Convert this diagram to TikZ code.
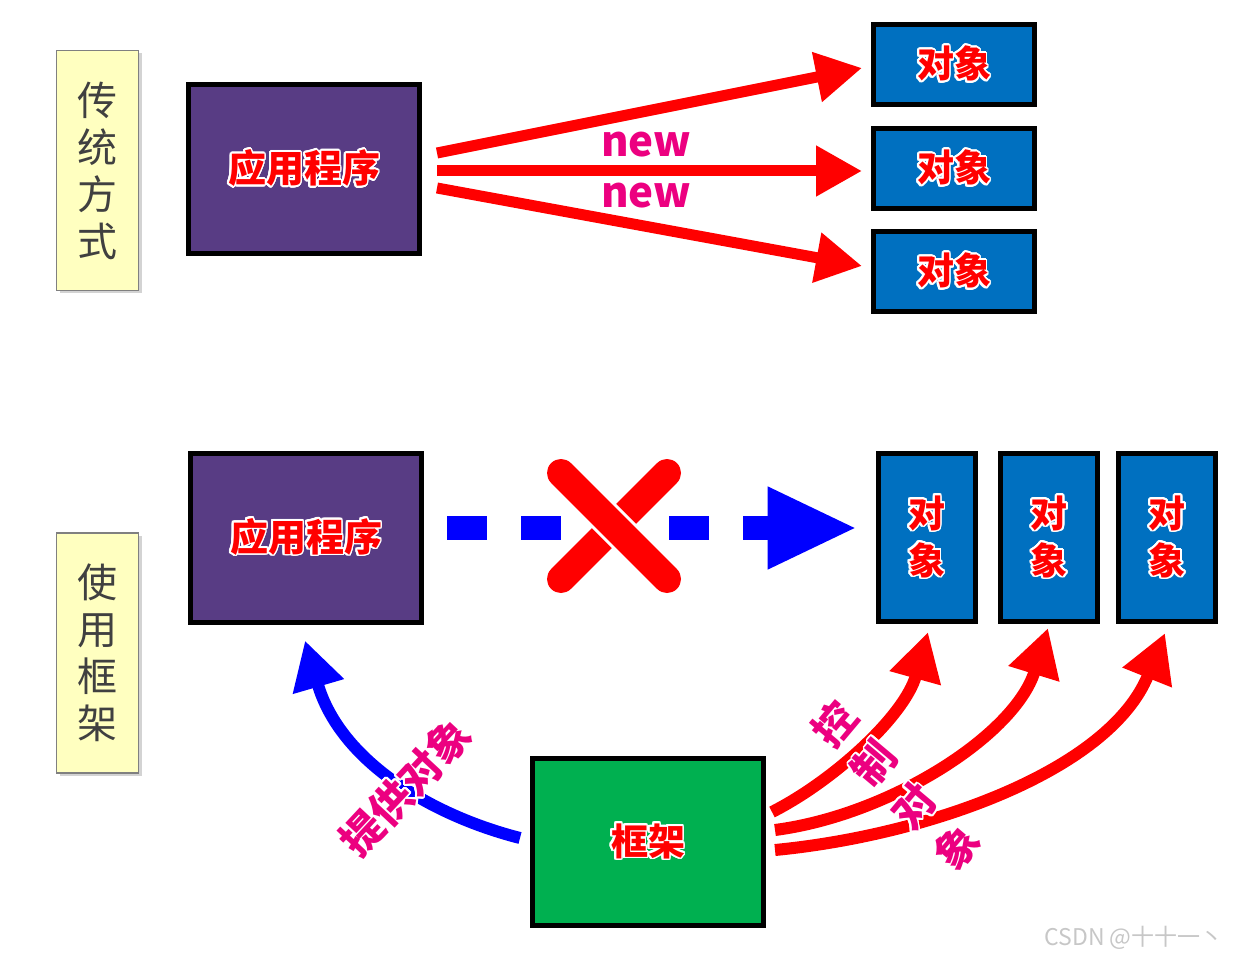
\documentclass[tikz,border=0pt]{standalone}
\usepackage{fontspec}
\setmainfont{Noto Sans CJK SC}
\usepackage{contour}
\contourlength{1.8pt}
\contournumber{24}
\definecolor{appviolet}{RGB}{88,60,132}
\definecolor{objblue}{RGB}{0,112,192}
\definecolor{fwgreen}{RGB}{0,176,80}
\definecolor{noteyellow}{RGB}{255,255,192}
\definecolor{hotpink}{RGB}{236,0,128}
\definecolor{darktext}{RGB}{64,64,64}
\usetikzlibrary{arrows.meta,calc,shadows}

\newcommand{\halo}[1]{\contour{white}{#1}}

\begin{document}
\begin{tikzpicture}[x=1pt,y=-1pt,
    note/.style={draw=gray, line width=1.5pt, fill=noteyellow, inner sep=0pt,
        minimum width=82pt, minimum height=240pt, align=center, text=darktext,
        font=\fontsize{40}{47}\selectfont,
        drop shadow={shadow xshift=3pt, shadow yshift=-3pt, opacity=.35}},
    box/.style={draw=black, line width=5pt, inner sep=0pt, text=red},
    app/.style={box, fill=appviolet, minimum width=231pt, minimum height=169pt,
        font=\bfseries\fontsize{38}{44}\selectfont},
    obj/.style={box, fill=objblue, minimum width=161pt, minimum height=80pt,
        font=\bfseries\fontsize{37}{44}\selectfont},
    tallobj/.style={box, fill=objblue, minimum width=97pt, minimum height=168pt,
        align=center, font=\bfseries\fontsize{37}{47}\selectfont},
    fwbox/.style={box, fill=fwgreen, minimum width=231pt, minimum height=167pt,
        font=\bfseries\fontsize{37}{44}\selectfont},
    pinklbl/.style={text=hotpink, inner sep=0pt, font=\bfseries\fontsize{42}{42}\selectfont},
    newarrow/.style={draw=red, line width=11pt, -{Triangle[length=46pt,width=48pt]},
        preaction={draw=white, line width=15pt, -{Triangle[length=50pt,width=55pt]}}},
    supplyarrow/.style={draw=blue, line width=12pt, -{Triangle[length=48pt,width=50pt]},
        preaction={draw=white, line width=16pt, -{Triangle[length=52pt,width=57pt]}}},
    ctrlarrow/.style={draw=red, line width=12pt, -{Triangle[length=48pt,width=50pt]},
        preaction={draw=white, line width=16pt, -{Triangle[length=52pt,width=57pt]}}},
    dasharrow/.style={draw=blue, line width=24pt, dash pattern=on 40pt off 34pt,
        -{Triangle[length=90pt,width=76pt]}}]
    \useasboundingbox (0,0) rectangle (1234,957);

    % Traditional way
    \node[note] (old) at (97.5,170.5) {传\\统\\方\\式};
    \node[app] (app1) at (304,169) {\halo{应用程序}};
    \node[obj] (obj1) at (954,64.5) {\halo{对象}};
    \node[obj] (obj2) at (954,168.5) {\halo{对象}};
    \node[obj] (obj3) at (954,271.5) {\halo{对象}};

    \draw[newarrow] ($(app1.east)+(15,-16)$) -- ($(obj1.west)+(-9,3.5)$);
    \draw[newarrow] ($(app1.east)+(15,2)$) -- ($(obj2.west)+(-9,2.5)$);
    \draw[newarrow] ($(app1.east)+(15,19)$) -- ($(obj3.west)+(-9,-5.5)$);
    \node[pinklbl] (new1) at (646,145) {new};
    \node[pinklbl] (new2) at (646,196) {new};

    % With a framework
    \node[note] (fw) at (97.5,653) {使\\用\\框\\架};
    \node[app] (app2) at (306,537.5) {\halo{应用程序}};
    \node[tallobj] (objb1) at (926.5,537.5) {\halo{对}\\\halo{象}};
    \node[tallobj] (objb2) at (1049,537.5) {\halo{对}\\\halo{象}};
    \node[tallobj] (objb3) at (1167,537.5) {\halo{对}\\\halo{象}};
    \node[fwbox] (frame) at (648,842) {\halo{框架}};

    % crossed-out direct link
    \draw[dasharrow] ($(app2.east)+(23,-9.5)$) -- ($(objb1.west)+(-18,-9.5)$);
    \draw[red, line width=28pt, line cap=round] (667,473) -- (561,579);
    \draw[white, line width=34pt, line cap=round] (561,473) -- (667,579);
    \draw[red, line width=28pt, line cap=round] (561,473) -- (667,579);

    % framework hands objects over
    \draw[supplyarrow] ($(frame.west)+(-10,-4)$) .. controls +(-90,-23) and +(35,120) .. ($(app2.south)+(-1,16)$);
    \node[pinklbl, rotate=47] (supply) at (406,788) {\halo{提供对象}};

    \draw[ctrlarrow] ($(frame.east)+(6,-30)$) .. controls +(63,-32) and +(-23,83) .. ($(objb1.south)+(1.5,8)$);
    \draw[ctrlarrow] ($(frame.east)+(9,-12)$) .. controls +(115,-15) and +(-33,107) .. ($(objb2.south)+(-1,4)$);
    \draw[ctrlarrow] ($(frame.east)+(9,8)$) .. controls +(155,-15) and +(-55,137) .. ($(objb3.south)+(-2,9)$);
    \node[pinklbl, rotate=50] (ctrl1) at (835,724) {\halo{控}};
    \node[pinklbl, rotate=50] (ctrl2) at (875,764) {\halo{制}};
    \node[pinklbl, rotate=50] (ctrl3) at (914,807) {\halo{对}};
    \node[pinklbl, rotate=50] (ctrl4) at (957,848) {\halo{象}};

    \node[text=black!22, font=\fontsize{23}{23}\selectfont] (mark) at (1134,938) {CSDN @十十一丶};
\end{tikzpicture}
\end{document}
